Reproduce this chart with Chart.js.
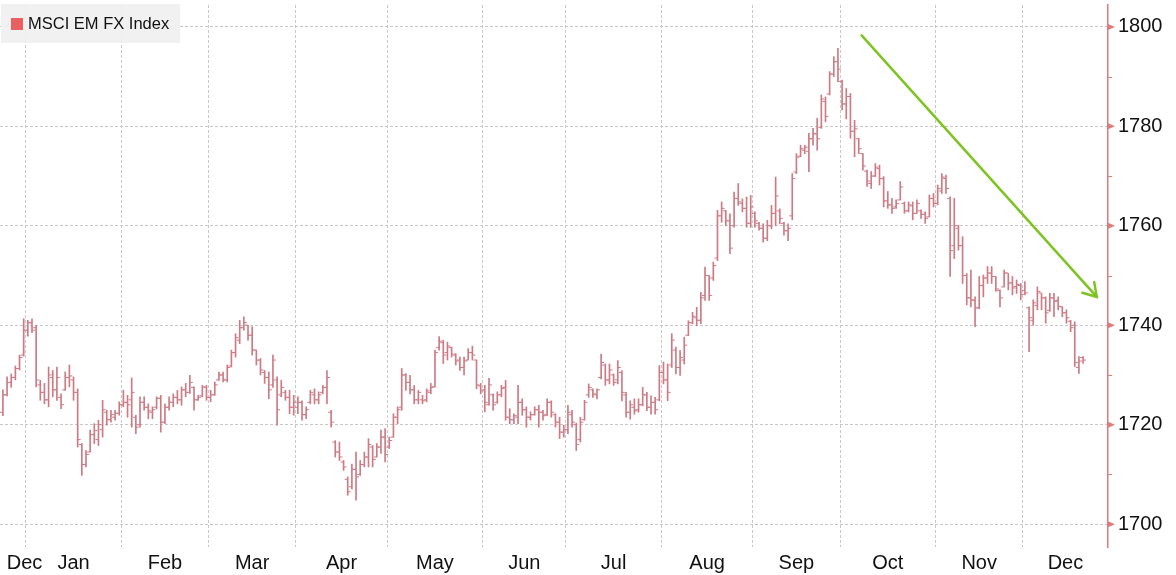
<!DOCTYPE html>
<html>
<head>
<meta charset="utf-8">
<title>MSCI EM FX Index</title>
<script src="https://cdn.jsdelivr.net/npm/chart.js@4.4.1/dist/chart.umd.min.js"></script>
<style>
  html, body { margin: 0; padding: 0; background: #fff; }
  #wrap { position: relative; width: 1176px; height: 575px; }
  #chart { display: block; }
  #legend {
    position: absolute; left: 1px; top: 4px; width: 179px; height: 39px;
    background: rgba(240, 240, 240, 0.92);
    font: 16.5px "Liberation Sans", Arial, sans-serif; color: #111;
    display: flex; align-items: center;
  }
  #legend .swatch { width: 12px; height: 12px; background: #e8605f; margin: 0 5px 0 10px; }
</style>
</head>
<body>
<div id="wrap">
  <canvas id="chart" width="1176" height="575"></canvas>
  <div id="legend"><span class="swatch"></span>MSCI EM FX Index</div>
</div>
<script>
// Serie diaria (dias habiles) desde el 22-dic-2023 hasta el 20-dic-2024
const seriesName = 'MSCI EM FX Index';
const firstBarDate = '2023-12-22';
const calendarStart = '2023-12-01';
const calendarEnd = '2024-12-31';
const zeroDate = '2024-01-01';
const monthLabels = ['Jan', 'Feb', 'Mar', 'Apr', 'May', 'Jun', 'Jul', 'Aug', 'Sep', 'Oct', 'Nov', 'Dec'];

const opens = [
  1722.5, 1726, 1728.5, 1729.5, 1731.3, 1734,
  1739, 1740.5, 1739.5, 1728, 1726.5, 1725, 1729.5, 1727, 1725.5, 1727, 1729.5, 1729, 1726.5, 1716, 1712, 1714.5, 1718, 1717, 1719, 1722.5, 1721, 1721.5, 1722.3,
  1724, 1724.5, 1725, 1721.5, 1720, 1724.5, 1723.5, 1722.5, 1723.5, 1725.3, 1720.5, 1723.5, 1724.5, 1725.5, 1725, 1727, 1726.5, 1727.5, 1725, 1725.8, 1727.5,
  1725.5, 1726, 1729, 1730, 1729, 1731.8, 1734.5, 1737, 1739.5, 1740, 1738, 1735, 1733, 1730.5, 1729.5, 1728, 1729, 1726, 1726.5, 1725.5, 1723.5,
  1723.5, 1724.5, 1722, 1724.5, 1726, 1725, 1726.5, 1727.5, 1722.5, 1716.5, 1714.5, 1712.5, 1709, 1707.5, 1711, 1710, 1712, 1713.5, 1715.5, 1713.5, 1715.5, 1717.5,
  1715.5, 1717.5, 1721.5, 1723.5, 1730, 1728.5, 1727, 1725, 1725, 1725, 1726.5, 1727.6, 1735.5, 1736.5, 1734.5, 1735.5, 1734, 1733, 1731.5, 1733, 1734.5, 1733, 1727.8,
  1727, 1724, 1726, 1724.5, 1726, 1727.5, 1721.5, 1721, 1721.5, 1724.5, 1723, 1721.5, 1722, 1723, 1722.5, 1722, 1724.5, 1722, 1720.5, 1718.5,
  1719, 1722, 1720, 1717, 1721, 1726, 1727, 1726, 1729.5, 1732, 1729, 1730, 1729, 1730.5, 1726, 1722.5, 1723.5, 1723, 1724, 1726, 1723.5, 1724.5, 1725,
  1730.5, 1729, 1732, 1735, 1731.5, 1733, 1738, 1740.5, 1741.5, 1741, 1746, 1750, 1749.5, 1753.5, 1762, 1763, 1761, 1760, 1765.5, 1764.5, 1763.5, 1760.5,
  1762.5, 1760.5, 1759.5, 1757.5, 1760, 1762.5, 1763, 1760.5, 1759, 1762, 1770.8, 1774, 1775.2, 1775, 1777.5, 1778.5, 1779.8, 1785, 1786.5, 1790.5, 1793,
  1789, 1784.5, 1786, 1779, 1777.5, 1774.5, 1771, 1768.5, 1770, 1771.5, 1769.5, 1765, 1764.2, 1763.8, 1765.2, 1764.5, 1763, 1764, 1762.5, 1763, 1762.3, 1761.8, 1765.5,
  1764.5, 1767, 1769.5, 1765.5, 1756, 1759.5, 1756, 1750, 1745.5, 1745, 1743.5, 1748, 1749.5, 1750.5, 1749.8, 1747, 1747.7, 1750.5, 1748.5, 1747.8, 1748,
  1747, 1743.5, 1741, 1744, 1746.5, 1745.5, 1743, 1745.5, 1745, 1743.7, 1742.5, 1740.8, 1740, 1731.5, 1733.5
];
const highs = [
  1727, 1729.6, 1730.2, 1731.8, 1734, 1741.3,
  1741, 1741.3, 1740, 1728.9, 1728.3, 1731.6, 1730.9, 1731.6, 1726.2, 1730.6, 1732, 1729.6, 1727.2, 1716.2, 1714.8, 1718.9, 1720.2, 1720.9, 1724.9, 1722.9, 1722.9, 1722.9, 1724.6,
  1726.9, 1725.9, 1729.4, 1721.9, 1725.6, 1725.6, 1724.2, 1723.6, 1725.6, 1725.9, 1724.2, 1725.6, 1726.2, 1726.9, 1727.6, 1728.3, 1729.9, 1727.6, 1725.9, 1727.9, 1727.9,
  1726.9, 1728.6, 1730.6, 1730.6, 1732, 1735, 1738.3, 1741, 1741.7, 1740, 1739.7, 1735, 1733.3, 1730.9, 1730.6, 1734, 1729.6, 1728.9, 1726.9, 1726.9, 1725.9,
  1725.6, 1724.8, 1723.6, 1726.9, 1727.2, 1726.6, 1727.9, 1730.9, 1722.9, 1716.8, 1716.5, 1712.8, 1709.5, 1712.1, 1714.5, 1712.8, 1714.5, 1717.2, 1715.8, 1716.2, 1718.9, 1719.2,
  1717.5, 1722.2, 1723.6, 1731.3, 1730.3, 1729.9, 1727.9, 1726.9, 1725.9, 1727.2, 1728.3, 1735, 1737.7, 1737, 1736.6, 1735.6, 1734.3, 1733.6, 1733.6, 1735.3, 1735.8, 1733, 1728.3,
  1727.9, 1729.3, 1726.2, 1726.6, 1727.9, 1728.9, 1723.2, 1722.2, 1727.9, 1725.2, 1723.6, 1722.6, 1723.6, 1723.9, 1722.9, 1725.2, 1724.8, 1722.2, 1721.5, 1719.9,
  1723.9, 1722.9, 1720.3, 1721.5, 1724.9, 1728.2, 1727.2, 1727.2, 1734.2, 1732.2, 1732.2, 1730.2, 1732.9, 1730.9, 1726.5, 1724.8, 1725.2, 1725.2, 1727.5, 1726.5, 1725.8, 1725.5, 1731.9,
  1732.6, 1732.2, 1738.3, 1735.6, 1734.9, 1737.6, 1740.9, 1742.6, 1743.6, 1746.6, 1751.7, 1750, 1752.7, 1763.1, 1764.8, 1763.1, 1762.4, 1766.8, 1768.5, 1765.4, 1765.8, 1766.1,
  1762.8, 1760.7, 1760.4, 1761.1, 1764.1, 1769.8, 1763.4, 1760.7, 1760.4, 1770.5, 1774.5, 1776.2, 1776.2, 1778.6, 1779.6, 1781.6, 1786.3, 1785.9, 1791, 1794, 1795.7,
  1789.3, 1787.6, 1786.6, 1781.2, 1777.6, 1774.5, 1771.2, 1770.9, 1772.5, 1772.2, 1769.9, 1766.9, 1765.5, 1765.2, 1768.9, 1764.8, 1764.8, 1764.8, 1765.2, 1763.2, 1762.8, 1766.2, 1766.5,
  1768.2, 1770.5, 1770.2, 1765.8, 1765.5, 1760.1, 1757.8, 1750.4, 1751.1, 1745.7, 1749.8, 1750.1, 1751.8, 1751.8, 1749.8, 1747.1, 1751.1, 1750.4, 1749.8, 1749.1, 1748.4,
  1748.8, 1743.7, 1745.1, 1747.7, 1746.4, 1745.7, 1746.4, 1746.4, 1745.7, 1743.7, 1743.1, 1741, 1740.7, 1733.7, 1733.7
];
const lows = [
  1721.8, 1725.8, 1727.5, 1729, 1731, 1733.8,
  1737.8, 1738.5, 1727.6, 1724.9, 1724.2, 1723.6, 1725.6, 1724.9, 1723.2, 1726.9, 1727.6, 1724.9, 1715.5, 1709.8, 1711.5, 1714.5, 1716.2, 1715.8, 1717.5, 1719.9, 1720.5, 1720.9, 1721.9,
  1723.6, 1721.5, 1719.5, 1718.2, 1719.5, 1722.9, 1721.2, 1721.2, 1723.2, 1718.5, 1720.2, 1722.9, 1723.6, 1724.2, 1723.9, 1725.6, 1726.3, 1722.9, 1724.9, 1725.6, 1724.9,
  1724.6, 1725.9, 1728.9, 1728.6, 1728.6, 1731.6, 1733.6, 1736.3, 1739, 1737, 1734, 1732, 1730, 1728.3, 1725.2, 1727.5, 1719.9, 1725.6, 1724.9, 1722.2, 1721.9,
  1722.2, 1720.9, 1721.2, 1724.2, 1724.2, 1724.2, 1726.2, 1724.2, 1719.5, 1713.5, 1712.8, 1710.8, 1705.8, 1707.1, 1704.8, 1709.8, 1711.5, 1711.5, 1711.5, 1713.5, 1714.2, 1712.5,
  1715.2, 1717.5, 1720.2, 1722.9, 1726.9, 1726.2, 1724.2, 1724.2, 1724.2, 1724.6, 1726.2, 1727.6, 1735, 1732.3, 1733, 1733.6, 1732, 1730.9, 1730, 1733, 1733, 1727.2, 1726.2,
  1722.6, 1723.9, 1722.9, 1724.3, 1725.6, 1720.9, 1720.2, 1720.2, 1720.2, 1721.9, 1719.5, 1720.9, 1721.9, 1719.5, 1720.9, 1721.8, 1721.5, 1719.5, 1717.2, 1717.5,
  1718.2, 1719.5, 1714.8, 1716.5, 1720.9, 1725.5, 1725.5, 1725.2, 1729.2, 1727.9, 1728.2, 1727.9, 1728.2, 1724.8, 1721.5, 1721.1, 1722.1, 1722.5, 1723.8, 1722.8, 1722.1, 1722.1, 1724.8,
  1728.2, 1724.8, 1731.5, 1730.2, 1729.9, 1732.2, 1737.9, 1740.3, 1739.9, 1740.3, 1745, 1745, 1749, 1753, 1760.7, 1760, 1754.4, 1759.7, 1764.1, 1762.8, 1759.7, 1759.7,
  1759.7, 1759.1, 1756.7, 1757, 1759.4, 1760, 1760.4, 1758.1, 1757, 1761.2, 1770.5, 1773.9, 1774.5, 1770.9, 1776.2, 1775.2, 1779.6, 1780.9, 1786.3, 1790, 1789,
  1783.3, 1781.5, 1777.6, 1773.9, 1774.5, 1771.2, 1767.9, 1767.5, 1769.9, 1768.2, 1763.8, 1763.5, 1762.5, 1763.5, 1765.2, 1762.5, 1762.8, 1761.2, 1762.5, 1761.5, 1760.5, 1761.8, 1763.8,
  1764.2, 1766.5, 1766.5, 1749.8, 1753.4, 1755.1, 1748.4, 1744.1, 1743.7, 1739.7, 1743.3, 1745.7, 1748.4, 1748.4, 1746.8, 1743.7, 1747.7, 1747.1, 1746.1, 1746.4, 1745.1,
  1746.1, 1734.7, 1740, 1743.1, 1743.1, 1740.4, 1742.8, 1741.7, 1743.1, 1741.7, 1740.4, 1738.7, 1731.7, 1730.3, 1732.3
];
const closes = [
  1726, 1728.5, 1729.5, 1731.3, 1733.5, 1739,
  1740.5, 1739, 1729, 1726.5, 1725, 1730, 1727, 1729.5, 1724, 1729.5, 1729.8, 1726.5, 1717, 1712, 1714, 1718, 1718.8, 1720, 1723, 1721, 1722, 1722.3, 1724,
  1724.5, 1724, 1726.5, 1719.5, 1724.5, 1723.5, 1722.8, 1723, 1725.3, 1720.5, 1723.5, 1724.5, 1725.5, 1725, 1727, 1726.5, 1728.5, 1725, 1725.5, 1727.6, 1725.5,
  1726, 1728, 1730, 1729, 1731.5, 1734.5, 1737.5, 1739.5, 1740.5, 1738, 1735, 1733, 1731, 1729.5, 1727, 1733, 1723, 1727.5, 1725.5, 1723.5, 1724.5,
  1724.5, 1722, 1723, 1726.5, 1725, 1726, 1727.5, 1729.5, 1720.5, 1714.5, 1713.5, 1711.5, 1706.5, 1711, 1709.5, 1712, 1713.5, 1716, 1713, 1715.5, 1717.5, 1714,
  1716.8, 1721.5, 1723, 1730, 1728.5, 1727, 1725, 1726.5, 1724.8, 1726.8, 1727.5, 1734.5, 1736.8, 1734, 1735.8, 1734.2, 1732.8, 1731.5, 1732.8, 1734.5, 1734, 1728, 1726.8,
  1724.5, 1728, 1724, 1726, 1727.3, 1721.5, 1721, 1721.8, 1724.5, 1723, 1721.5, 1722, 1723, 1722.5, 1721.8, 1724.5, 1722.5, 1720.5, 1718.5, 1719,
  1722.5, 1720.5, 1716, 1720.5, 1724.5, 1727.5, 1726.2, 1727, 1732.5, 1729, 1731, 1728.5, 1731.5, 1726.5, 1722.5, 1724, 1722.8, 1724, 1726, 1723.5, 1724.5, 1723, 1730.5,
  1729, 1726.5, 1737, 1731.5, 1733.5, 1736, 1740.5, 1741.8, 1741, 1745.5, 1750, 1746, 1752, 1762, 1763.5, 1761, 1755.5, 1765.5, 1764.8, 1763.5, 1760.5, 1763.8,
  1761, 1759.5, 1757.5, 1760, 1762.5, 1766, 1761.5, 1759, 1759.5, 1769.5, 1773.8, 1775.5, 1775.8, 1777.5, 1778.5, 1777.5, 1785.5, 1782, 1790.5, 1793, 1791.5,
  1784.5, 1786, 1779, 1779.5, 1775.5, 1772, 1769, 1770, 1771.8, 1769.5, 1765, 1764.2, 1763.5, 1764.5, 1767.8, 1763, 1764.2, 1762.5, 1764.5, 1762.3, 1761.5, 1765.5, 1764.5,
  1767.5, 1769.8, 1767.5, 1755, 1760, 1756, 1750, 1745.5, 1745.1, 1743.5, 1748, 1749.5, 1750.5, 1749.8, 1747.3, 1745.5, 1750.5, 1748.5, 1747.5, 1748.2, 1746.2,
  1746.5, 1741.5, 1744.5, 1746.8, 1745.5, 1742.5, 1745.5, 1744.8, 1743.8, 1742.5, 1741.5, 1739.5, 1732.5, 1732.8, 1733
];

const yTicks = [1700, 1720, 1740, 1760, 1780, 1800];
const yMinorTicks = [1710, 1730, 1750, 1770, 1790];

// Vista: posiciones en dias habiles contados desde el 1-ene-2024
const xView = [-6.2, 260.5];
const yView = [1695.4, 1804.4];
const trendArrow = { from: [201.2, 1798.3], to: [257.8, 1745.7] };

const barColor = 'rgb(206, 122, 132)';
const axisColor = '#e07b7b';
const gridColor = '#c8c8c8';
const arrowColor = '#7dc423';
const fontFamily = '"Liberation Sans", Arial, sans-serif';

// Calendario de dias habiles
function weekdays(from, to) {
  const out = [];
  const d = new Date(from + 'T00:00:00Z');
  const end = new Date(to + 'T00:00:00Z');
  while (d <= end) {
    const wd = d.getUTCDay();
    if (wd !== 0 && wd !== 6) out.push(new Date(d));
    d.setUTCDate(d.getUTCDate() + 1);
  }
  return out;
}
const isoDay = d => d.toISOString().slice(0, 10);

const calendar = weekdays(calendarStart, calendarEnd);
const zeroIdx = calendar.findIndex(d => isoDay(d) === zeroDate);
const firstIdx = calendar.findIndex(d => isoDay(d) === firstBarDate);

const months = [];
calendar.forEach((d, k) => {
  const m = d.getUTCMonth();
  if (!months.length || months[months.length - 1].m !== m) {
    months.push({ m: m, start: k - zeroIdx });
  }
});
months.forEach((mo, k) => {
  mo.end = k < months.length - 1 ? months[k + 1].start : calendar.length - zeroIdx;
});

const boundaryValues = months.map(mo => mo.start).filter(v => v > xView[0] && v < xView[1]);
const boundarySet = new Set(boundaryValues);
const labelMap = new Map();
months.forEach(mo => {
  const a = Math.max(mo.start, xView[0]);
  const b = Math.min(mo.end, xView[1]);
  if (b <= a) return;
  const pos = Math.max((a + b) / 2, xView[0] + 5.9);
  labelMap.set(pos, monthLabels[mo.m]);
});

const bars = opens.map((o, k) => ({
  pos: firstIdx - zeroIdx + k + 0.5,
  o: o, h: highs[k], l: lows[k], c: closes[k]
}));

// Marcas del eje derecho (triangulos y menores)
const axisMarks = {
  id: 'axisMarks',
  afterDraw(chart) {
    const { ctx } = chart;
    const y = chart.scales.y;
    const x0 = y.left;
    ctx.save();
    ctx.fillStyle = axisColor;
    ctx.strokeStyle = axisColor;
    ctx.lineWidth = 1;
    yTicks.forEach(v => {
      const py = y.getPixelForValue(v);
      ctx.beginPath();
      ctx.moveTo(x0, py - 3);
      ctx.lineTo(x0 + 7, py);
      ctx.lineTo(x0, py + 3);
      ctx.closePath();
      ctx.fill();
    });
    yMinorTicks.forEach(v => {
      const py = Math.round(y.getPixelForValue(v)) + 0.5;
      ctx.beginPath();
      ctx.moveTo(x0, py);
      ctx.lineTo(x0 + 4, py);
      ctx.stroke();
    });
    ctx.restore();
  }
};

// Flecha de tendencia
const trendArrowPlugin = {
  id: 'trendArrow',
  afterDatasetsDraw(chart) {
    const { ctx } = chart;
    const { x, y } = chart.scales;
    const x0 = x.getPixelForValue(trendArrow.from[0]);
    const y0 = y.getPixelForValue(trendArrow.from[1]);
    const x1 = x.getPixelForValue(trendArrow.to[0]);
    const y1 = y.getPixelForValue(trendArrow.to[1]);
    const ang = Math.atan2(y1 - y0, x1 - x0);
    const head = 15;
    const spread = 0.56;
    ctx.save();
    ctx.strokeStyle = arrowColor;
    ctx.lineWidth = 2.5;
    ctx.lineCap = 'round';
    ctx.beginPath();
    ctx.moveTo(x0, y0);
    ctx.lineTo(x1, y1);
    ctx.moveTo(x1 - head * Math.cos(ang - spread), y1 - head * Math.sin(ang - spread));
    ctx.lineTo(x1, y1);
    ctx.lineTo(x1 - head * Math.cos(ang + spread), y1 - head * Math.sin(ang + spread));
    ctx.stroke();
    ctx.restore();
  }
};

const tickPoint = {
  type: 'line',
  showLine: false,
  pointStyle: 'dash',
  pointRadius: 3,
  pointHoverRadius: 3,
  pointBorderWidth: 1,
  pointBorderColor: barColor,
  pointBackgroundColor: barColor
};

new Chart(document.getElementById('chart'), {
  type: 'bar',
  data: {
    datasets: [
      {
        type: 'bar',
        label: seriesName,
        data: bars.map(b => ({ x: b.pos, y: [b.l, b.h] })),
        backgroundColor: barColor,
        borderWidth: 0,
        barThickness: 1
      },
      Object.assign({}, tickPoint, {
        label: seriesName + ' open',
        data: bars.map(b => ({ x: b.pos, y: b.o })),
        pointRotation: 180
      }),
      Object.assign({}, tickPoint, {
        label: seriesName + ' close',
        data: bars.map(b => ({ x: b.pos, y: b.c })),
        pointRotation: 0
      })
    ]
  },
  options: {
    responsive: false,
    animation: false,
    events: [],
    layout: { autoPadding: false, padding: { top: 5, left: 0, right: 0, bottom: 0 } },
    plugins: {
      legend: { display: false },
      tooltip: { enabled: false }
    },
    scales: {
      x: {
        type: 'linear',
        min: xView[0],
        max: xView[1],
        offset: false,
        afterBuildTicks(axis) {
          const vals = boundaryValues.concat(Array.from(labelMap.keys())).sort((a, b) => a - b);
          axis.ticks = vals.map(v => ({ value: v }));
        },
        afterFit(axis) {
          axis.height = 28;
          axis.paddingLeft = 0;
          axis.paddingRight = 0;
        },
        grid: {
          offset: false,
          drawTicks: false,
          lineWidth: 1,
          color(ctx) {
            if (!ctx.tick) return gridColor;
            return boundarySet.has(ctx.tick.value) ? gridColor : 'rgba(0,0,0,0)';
          }
        },
        border: { display: false, dash: [3, 2] },
        ticks: {
          autoSkip: false,
          maxRotation: 0,
          minRotation: 0,
          padding: 4,
          color: '#111',
          font: { family: fontFamily, size: 20 },
          callback: value => labelMap.get(value) || ''
        }
      },
      y: {
        type: 'linear',
        position: 'right',
        min: yView[0],
        max: yView[1],
        beginAtZero: false,
        afterBuildTicks(axis) {
          axis.ticks = yTicks.map(v => ({ value: v }));
        },
        afterFit(axis) {
          axis.width = 68;
          axis.paddingTop = 0;
          axis.paddingBottom = 0;
        },
        grid: { drawTicks: false, color: gridColor, lineWidth: 1 },
        border: { display: true, color: axisColor, width: 1.5, dash: [3, 2] },
        ticks: {
          padding: 10,
          color: '#111',
          font: { family: fontFamily, size: 20 },
          callback: value => String(value)
        }
      }
    }
  },
  plugins: [axisMarks, trendArrowPlugin]
});
</script>
</body>
</html>
